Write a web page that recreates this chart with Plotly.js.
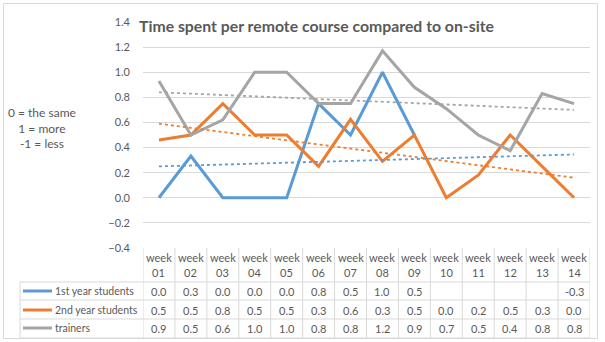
<!DOCTYPE html>
<html>
<head>
<meta charset="utf-8">
<script src="https://cdn.plot.ly/plotly-3.0.1.min.js"></script>
<style>html,body{margin:0;padding:0;background:#fff;}#chart{width:605px;height:342px;}</style>
</head>
<body>
<div id="chart"></div>
<script>
// ---- data ----
const weeks = ['week 01','week 02','week 03','week 04','week 05','week 06','week 07','week 08','week 09','week 10','week 11','week 12','week 13','week 14'];
const headerTop = ['week','week','week','week','week','week','week','week','week','week','week','week','week','week'];
const headerBottom = ['01','02','03','04','05','06','07','08','09','10','11','12','13','14'];
const seriesNames = ['1st year students','2nd year students','trainers'];
const firstYear  = [0.0, 0.333, 0.0, 0.0, 0.0, 0.75, 0.5, 1.0, 0.5, null, null, null, null, -0.3];
const secondYear = [0.46, 0.5, 0.75, 0.5, 0.5, 0.25, 0.625, 0.29, 0.5, 0.0, 0.18, 0.5, 0.25, 0.0];
const trainers   = [0.93, 0.5, 0.62, 1.0, 1.0, 0.75, 0.75, 1.17, 0.88, 0.71, 0.5, 0.375, 0.83, 0.75];
// trendline end values (week 01, week 14)
const trendFirst  = [0.25, 0.345];
const trendSecond = [0.59, 0.16];
const trendTrain  = [0.84, 0.70];
const titleText = 'Time spent per remote course compared to on-site';
const noteText = '0 = the same<br>1 = more<br>-1 = less';

// ---- styling ----
const colors = ['#5B9BD5', '#ED7D31', '#A5A5A5'];
const FONT = 'Lato, "Open Sans", sans-serif';
const TXT = '#595959';
const GRID = '#d9d9d9';
const W = 605, H = 342;
const L = 143, R = 590, T = 22, B = 248;
const px = x => (x - L) / (R - L);
const py = y => (B - y) / (B - T);

const allSeries = [firstYear, secondYear, trainers];
const trends = [trendFirst, trendSecond, trendTrain];

const traces = [];
allSeries.forEach((s, i) => {
  traces.push({x: weeks, y: s, type: 'scatter', mode: 'lines', name: seriesNames[i],
    line: {color: colors[i], width: 3}, connectgaps: false, hoverinfo: 'skip'});
});
trends.forEach((t, i) => {
  traces.push({x: [weeks[0], weeks[weeks.length - 1]], y: t, type: 'scatter', mode: 'lines',
    line: {color: colors[i], width: 1.8, dash: 'dot'}, hoverinfo: 'skip'});
});

const annotations = [];
const shapes = [];

// title with white backing
annotations.push({xref: 'paper', yref: 'paper', x: px(137), y: py(25), xanchor: 'left', yanchor: 'middle',
  text: '<b>' + titleText + '</b>', showarrow: false, bgcolor: '#ffffff', borderpad: 1,
  font: {family: FONT, size: 15.8, color: TXT}});
// note on the left
annotations.push({xref: 'paper', yref: 'paper', x: px(42), y: py(128), xanchor: 'center', yanchor: 'middle',
  text: noteText, showarrow: false, align: 'center',
  font: {family: FONT, size: 12, color: TXT}});

// data table
const rowTops = [282, 300, 319, 338];
const rowCenters = [291, 310, 328];
weeks.forEach((w, j) => {
  annotations.push({xref: 'x', yref: 'paper', x: w, y: py(257), text: headerTop[j], showarrow: false,
    xanchor: 'center', yanchor: 'middle', font: {family: FONT, size: 11, color: TXT}});
  annotations.push({xref: 'x', yref: 'paper', x: w, y: py(272), text: headerBottom[j], showarrow: false,
    xanchor: 'center', yanchor: 'middle', font: {family: FONT, size: 11, color: TXT}});
  allSeries.forEach((s, i) => {
    if (s[j] === null) return;
    annotations.push({xref: 'x', yref: 'paper', x: w, y: py(rowCenters[i]), text: s[j].toFixed(1),
      showarrow: false, xanchor: 'center', yanchor: 'middle', font: {family: FONT, size: 11, color: TXT}});
  });
});
seriesNames.forEach((n, i) => {
  annotations.push({xref: 'paper', yref: 'paper', x: px(53), y: py(rowCenters[i]), text: n, showarrow: false,
    xanchor: 'left', yanchor: 'middle', font: {family: FONT, size: 10.5, color: TXT}});
  shapes.push({type: 'line', xref: 'paper', yref: 'paper', x0: px(23), x1: px(52),
    y0: py(rowCenters[i]), y1: py(rowCenters[i]), line: {color: colors[i], width: 3}});
});
// table grid
for (let k = 0; k <= weeks.length; k++) {
  shapes.push({type: 'line', xref: 'x', yref: 'paper', x0: k - 0.5, x1: k - 0.5, y0: py(248), y1: py(338),
    line: {color: GRID, width: 1}});
}
rowTops.forEach(y => {
  shapes.push({type: 'line', xref: 'paper', yref: 'paper', x0: px(20), x1: 1, y0: py(y), y1: py(y),
    line: {color: GRID, width: 1}});
});
shapes.push({type: 'line', xref: 'paper', yref: 'paper', x0: px(20), x1: px(20), y0: py(282), y1: py(338),
  line: {color: GRID, width: 1}});
// chart border
shapes.push({type: 'rect', xref: 'paper', yref: 'paper', x0: px(3.5), x1: px(597.5), y0: py(3.5), y1: py(338.5),
  line: {color: GRID, width: 1}, layer: 'below'});

const layout = {
  width: W, height: H,
  margin: {l: L, r: W - R, t: T, b: H - B, pad: 0},
  paper_bgcolor: '#ffffff', plot_bgcolor: '#ffffff',
  showlegend: false,
  font: {family: FONT, size: 11, color: TXT},
  xaxis: {type: 'category', range: [-0.5, weeks.length - 0.5], showticklabels: false, showgrid: false,
    zeroline: false, showline: false, ticks: '', fixedrange: true},
  yaxis: {range: [-0.4, 1.4], dtick: 0.2, tick0: 0, tickformat: '.1f', showgrid: true, gridcolor: GRID,
    gridwidth: 1, zeroline: false, showline: false, ticks: '', ticklabelstandoff: 12,
    tickfont: {family: FONT, size: 11, color: TXT}, fixedrange: true},
  annotations: annotations,
  shapes: shapes
};

Plotly.newPlot('chart', traces, layout, {displayModeBar: false, staticPlot: true});
</script>
</body>
</html>
